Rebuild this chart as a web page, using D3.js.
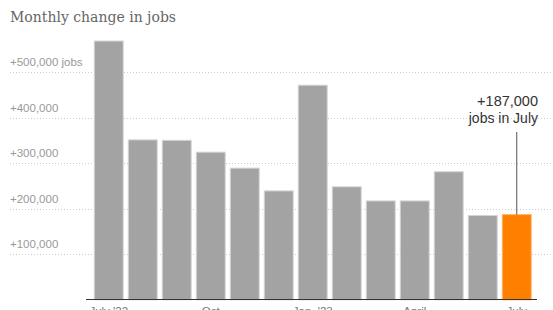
<!DOCTYPE html>
<style>
body { margin: 0; background: #fff; }
svg { display: block; }
</style>
<script src="https://d3js.org/d3.v7.min.js"></script>
<svg width="553" height="310"></svg>
<script>
// monthly job gains, July 2022 - July 2023
var months = ["Jul22","Aug22","Sep22","Oct22","Nov22","Dec22","Jan23","Feb23","Mar23","Apr23","May23","Jun23","Jul23"];
var jobs = [568000, 351000, 350000, 324000, 289000, 239000, 471000, 248000, 217000, 217000, 281000, 185000, 187000];
var yTicks = [100000, 200000, 300000, 400000, 500000];
var xLabels = {"Jul22": "July '22", "Oct22": "Oct", "Jan23": "Jan. '23", "Apr23": "April", "Jul23": "July"};

var svg = d3.select("svg"),
    width = +svg.attr("width");

var x = d3.scaleBand()
    .domain(months)
    .range([91.75, 533.75])
    .paddingInner(0.15)
    .paddingOuter(0.075);

var y = d3.scaleLinear()
    .domain([0, 500000])
    .range([299.8, 72]);

svg.append("text")
    .attr("x", 10).attr("y", 22)
    .attr("font-family", "DejaVu Serif, Georgia, serif")
    .attr("font-size", 14)
    .attr("fill", "#666")
    .text("Monthly change in jobs");

// gridlines + labels
var grid = svg.selectAll(".grid").data(yTicks).enter().append("g");
grid.append("line")
    .attr("x1", 10).attr("x2", width)
    .attr("y1", function(d) { return Math.round(y(d)) + 0.5; })
    .attr("y2", function(d) { return Math.round(y(d)) + 0.5; })
    .attr("stroke", "#ccc")
    .attr("stroke-dasharray", "1,2");
grid.append("text")
    .attr("x", 10)
    .attr("y", function(d) { return y(d) - 6; })
    .attr("font-family", "Liberation Sans, Arial, sans-serif")
    .attr("font-size", 11.5)
    .attr("fill", "#999")
    .text(function(d) { return "+" + d3.format(",")(d) + (d === 500000 ? " jobs" : ""); });

svg.selectAll(".bar").data(months).enter().append("rect")
    .attr("x", function(d) { return x(d); })
    .attr("y", function(d, i) { return y(jobs[i]); })
    .attr("width", x.bandwidth())
    .attr("height", function(d, i) { return y(0) - y(jobs[i]); })
    .attr("fill", function(d, i) { return i === months.length - 1 ? "#ff7f00" : "#a3a3a3"; })
    .attr("stroke", function(d, i) { return i === months.length - 1 ? "#ffb366" : "#d4d4d4"; })
    .attr("stroke-width", 1);

// baseline
svg.append("line")
    .attr("x1", 86).attr("x2", 537)
    .attr("y1", 299.5).attr("y2", 299.5)
    .attr("stroke", "#333").attr("stroke-width", 1.2);

// x labels
svg.selectAll(".xl").data(months.filter(function(m) { return xLabels[m]; })).enter().append("text")
    .attr("x", function(d) { return x(d) + x.bandwidth() / 2; })
    .attr("y", 315)
    .attr("text-anchor", "middle")
    .attr("font-family", "Liberation Sans, Arial, sans-serif")
    .attr("font-size", 11.5)
    .attr("fill", "#777")
    .text(function(d) { return xLabels[d]; });

// annotation
var last = months[months.length - 1];
var cx = x(last) + x.bandwidth() / 2;
svg.append("line")
    .attr("x1", cx).attr("x2", cx)
    .attr("y1", 132).attr("y2", y(jobs[jobs.length - 1]))
    .attr("stroke", "#555").attr("stroke-width", 1);
svg.append("text")
    .attr("x", 538).attr("y", 106)
    .attr("text-anchor", "end")
    .attr("font-family", "Liberation Sans, Arial, sans-serif")
    .attr("font-size", 14.5)
    .attr("fill", "#333")
    .text("+" + d3.format(",")(jobs[jobs.length - 1]));
svg.append("text")
    .attr("x", 538).attr("y", 123)
    .attr("text-anchor", "end")
    .attr("font-family", "Liberation Sans, Arial, sans-serif")
    .attr("font-size", 14)
    .attr("fill", "#333")
    .text("jobs in July");
</script>
